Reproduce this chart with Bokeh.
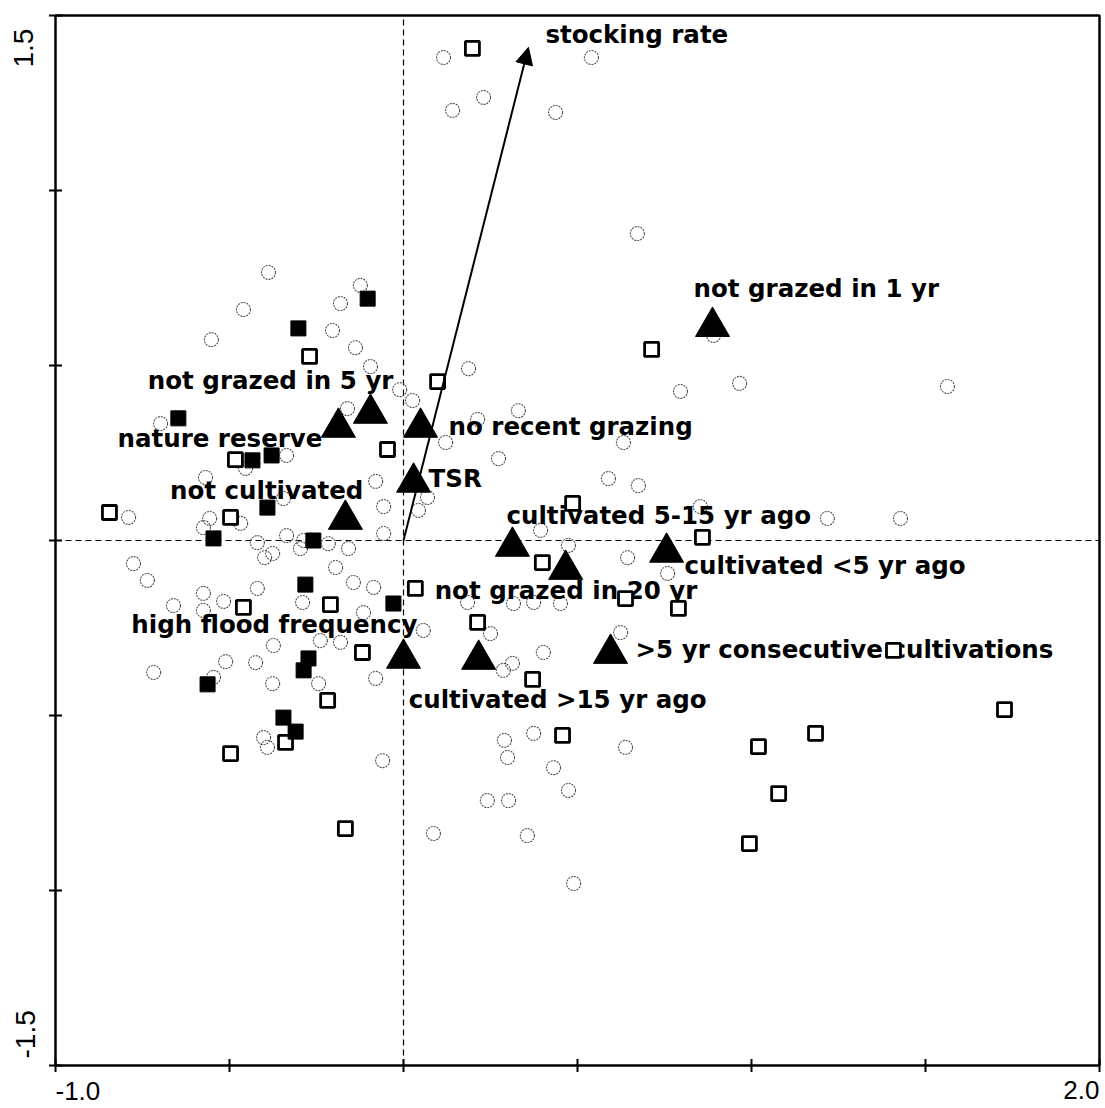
from math import pi

from bokeh.core.properties import field, value
from bokeh.embed import file_html
from bokeh.models import Arrow, ColumnDataSource, NormalHead, Range1d
from bokeh.plotting import figure
from bokeh.resources import INLINE

# --- ordination scores --------------------------------------------------
# relevés in grazed plots (open circles)
circle_x = [0.115, 0.230, 0.141, 0.437, 0.540, 0.672, 0.891, 0.187, 0.796, 0.966,
            1.563, -0.388, -0.460, -0.552, -0.124, -0.181, -0.204, -0.138, -0.095, -0.011,
            0.026, -0.698, -0.161, -0.336, -0.454, -0.569, -0.080, -0.345, -0.790, -0.557,
            -0.575, -0.468, -0.057, -0.057, -0.420, -0.399, -0.376, -0.336, -0.296, -0.287,
            -0.216, -0.158, -0.776, -0.736, -0.195, -0.144, -0.086, -0.420, -0.575, -0.517,
            -0.661, -0.575, -0.290, -0.115, -0.374, -0.239, -0.181, -0.511, -0.425, -0.718,
            -0.546, -0.376, -0.244, -0.080, -0.402, -0.391, -0.060, 0.330, 0.213, 0.121,
            0.632, 0.273, 0.589, 0.675, 0.069, 0.043, 0.394, 0.474, 0.644, 0.759,
            0.184, 0.316, 0.374, 0.451, 0.250, 0.057, 0.624, 0.402, 0.313, 0.287,
            0.374, 0.290, 0.299, 0.638, 0.431, 0.474, 0.241, 0.302, 0.086, 0.356,
            0.489, 1.218, 1.428, 0.853]
circle_y = [1.380, 1.266, 1.229, 1.223, 1.380, 0.877, 0.586, 0.491, 0.426, 0.449,
            0.440, 0.766, 0.660, 0.574, 0.729, 0.677, 0.600, 0.551, 0.497, 0.431,
            0.400, 0.334, 0.377, 0.243, 0.206, 0.180, 0.169, 0.120, 0.066, 0.063,
            0.037, 0.049, 0.097, 0.020, -0.006, -0.049, -0.037, 0.014, -0.023, 0.000,
            -0.009, -0.023, -0.066, -0.114, -0.077, -0.120, -0.134, -0.137, -0.151, -0.174,
            -0.186, -0.200, -0.177, -0.206, -0.300, -0.286, -0.291, -0.346, -0.349, -0.377,
            -0.391, -0.409, -0.409, -0.394, -0.563, -0.591, -0.629, 0.371, 0.346, 0.280,
            0.280, 0.234, 0.177, 0.157, 0.123, 0.086, 0.029, -0.014, -0.049, -0.094,
            -0.177, -0.180, -0.177, -0.180, -0.266, -0.257, -0.263, -0.320, -0.351, -0.371,
            -0.551, -0.571, -0.620, -0.591, -0.649, -0.714, -0.743, -0.743, -0.837, -0.843,
            -0.980, 0.063, 0.063, 0.097]

# relevés in nature reserves (filled squares)
reserve_x = [-0.103, -0.302, -0.647, -0.434, -0.379, -0.391, -0.546, -0.259,
             -0.282, -0.029, -0.273, -0.287, -0.563, -0.345, -0.310]
reserve_y = [0.691, 0.606, 0.349, 0.229, 0.243, 0.094, 0.006, 0.000,
             -0.126, -0.180, -0.337, -0.371, -0.411, -0.506, -0.546]

# relevés in formerly cultivated plots (open squares)
field_x = [0.198, 0.713, 0.098, -0.270, -0.046, -0.483, -0.845, -0.497, 0.486, 0.859,
           0.399, 0.034, 0.638, 0.790, 0.213, -0.460, -0.210, -0.118, 0.371, -0.218,
           -0.339, -0.497, -0.167, 0.457, 1.408, 1.727, 1.184, 1.020, 1.078, 0.994]
field_y = [1.406, 0.546, 0.454, 0.526, 0.260, 0.231, 0.080, 0.066, 0.106, 0.009,
           -0.063, -0.137, -0.166, -0.194, -0.234, -0.191, -0.183, -0.320, -0.397, -0.457,
           -0.577, -0.609, -0.823, -0.557, -0.314, -0.483, -0.551, -0.589, -0.723, -0.866]

# nominal environmental variables (centroids, filled triangles)
centroid_names = ["not grazed in 1 yr", "not grazed in 5 yr", "nature reserve",
                  "no recent grazing", "TSR", "not cultivated",
                  "cultivated 5-15 yr ago", "cultivated <5 yr ago", "not grazed in 20 yr",
                  "high flood frequency", "cultivated >15 yr ago",
                  ">5 yr consecutive cultivations"]
centroid_x = [0.888, -0.095, -0.187, 0.049, 0.029, -0.167,
              0.313, 0.756, 0.466, 0.000, 0.216, 0.595]
centroid_y = [0.611, 0.363, 0.323, 0.323, 0.166, 0.060,
              -0.017, -0.034, -0.083, -0.337, -0.340, -0.323]

# quantitative variable (biplot arrow)
arrow_name = "stocking rate"
arrow_x = [0.0, 0.359]
arrow_y = [0.0, 1.409]

# axis ticks and the values printed at the axis ends
x_ticks = [-1.0, -0.5, 0.0, 0.5, 1.0, 1.5, 2.0]
y_ticks = [-1.5, -1.0, -0.5, 0.0, 0.5, 1.0, 1.5]
x_end_labels = ["-1.0", "2.0"]
y_end_labels = ["-1.5", "1.5"]

# --- layout ---------------------------------------------------------------
W, H = 1105, 1108
PAD_L, PAD_R, PAD_T, PAD_B = 55, 6, 15, 43      # pixels around the axis box
x0, x1 = x_ticks[0], x_ticks[-1]
y0, y1 = y_ticks[0], y_ticks[-1]
kx = (x1 - x0) / (W - PAD_L - PAD_R)
ky = (y1 - y0) / (H - PAD_T - PAD_B)

# label placement: pixel offset of each label's vertical centre from its triangle
label_dx = [-19, 23, -16, 28, 15, 18, -6, 18, -131, 14, -70, 25]
label_dy = [-38, -33, 11, -1, -4, -29, -31, 13, 21, -34, 40, -4]
label_align = ["left", "right", "right", "left", "left", "right",
               "left", "left", "left", "right", "left", "left"]

LABEL_FONT = "DejaVu Sans"
TICK_FONT = "Liberation Sans"

p = figure(width=W, height=H,
           x_range=Range1d(x0 - PAD_L * kx, x1 + PAD_R * kx),
           y_range=Range1d(y0 - PAD_B * ky, y1 + PAD_T * ky),
           output_backend="svg", toolbar_location=None,
           min_border=0, min_border_left=0, min_border_right=0,
           min_border_top=0, min_border_bottom=0)
p.xaxis.visible = False
p.yaxis.visible = False
p.xgrid.visible = False
p.ygrid.visible = False
p.outline_line_color = None
p.background_fill_color = "white"
p.border_fill_color = "white"

# axis box
p.quad(left=[x0], right=[x1], bottom=[y0], top=[y1], fill_color=None,
       line_color="black", line_width=2.5)

# tick marks crossing the left and bottom axes
p.scatter(x_ticks, [y0] * len(x_ticks), marker="dash", angle=pi / 2, size=13,
          line_color="black", line_width=2)
p.scatter([x0] * len(y_ticks), y_ticks, marker="dash", size=13,
          line_color="black", line_width=2)

# axis end values
tick_style = dict(text_font=value(TICK_FONT), text_color="black",
                  text_baseline="middle")
p.text(x=[x0], y=[y0], text=[x_end_labels[0]], text_align="left", y_offset=25,
       text_font_size="26px", **tick_style)
p.text(x=[x1], y=[y0], text=[x_end_labels[1]], text_align="right", y_offset=24,
       text_font_size="26px", **tick_style)
p.text(x=[x0], y=[y1], text=[y_end_labels[1]], text_align="left", angle=pi / 2,
       x_offset=-32, y_offset=52, text_font_size="28px", **tick_style)
p.text(x=[x0], y=[y0], text=[y_end_labels[0]], text_align="left", angle=pi / 2,
       x_offset=-30, y_offset=-7, text_font_size="28px", **tick_style)

# zero lines
p.segment(x0=[x0, 0.0], y0=[0.0, y0], x1=[x1, 0.0], y1=[0.0, y1],
          line_color="black", line_width=1.2, line_dash="6 4")

# grazed relevés
p.scatter(circle_x, circle_y, marker="circle", size=14, fill_color=None,
          line_color="#505050", line_width=1.1, line_dash="2 1")

# centroid labels
lab_src = ColumnDataSource(dict(x=centroid_x, y=centroid_y, text=centroid_names,
                                dx=label_dx, dy=label_dy, align=label_align))
p.text(x="x", y="y", text="text", source=lab_src,
       x_offset="dx", y_offset="dy", text_align=field("align"),
       text_baseline="middle", text_font=value(LABEL_FONT),
       text_font_style="bold", text_font_size="24.5px", text_color="black")

# cultivated and reserve relevés
p.scatter(field_x, field_y, marker="square", size=14, fill_color="white",
          line_color="black", line_width=2.8)
p.scatter(reserve_x, reserve_y, marker="square", size=15, fill_color="black",
          line_color="black", line_width=1)

# centroids of nominal variables
p.scatter(centroid_x, centroid_y, marker="triangle", size=34,
          fill_color="black", line_color="black", line_width=1)

# stocking rate arrow and its label
p.add_layout(Arrow(end=NormalHead(size=17, fill_color="black", line_color="black",
                                  line_width=1),
                   x_start=arrow_x[0], y_start=arrow_y[0],
                   x_end=arrow_x[1], y_end=arrow_y[1],
                   line_color="black", line_width=2))
p.text(x=[arrow_x[1]], y=[arrow_y[1]], text=[arrow_name], x_offset=17, y_offset=-13,
       text_align="left", text_baseline="middle", text_font=value(LABEL_FONT),
       text_font_style="bold", text_font_size="24.5px", text_color="black")

open("out.html", "w").write(file_html(p, INLINE))
